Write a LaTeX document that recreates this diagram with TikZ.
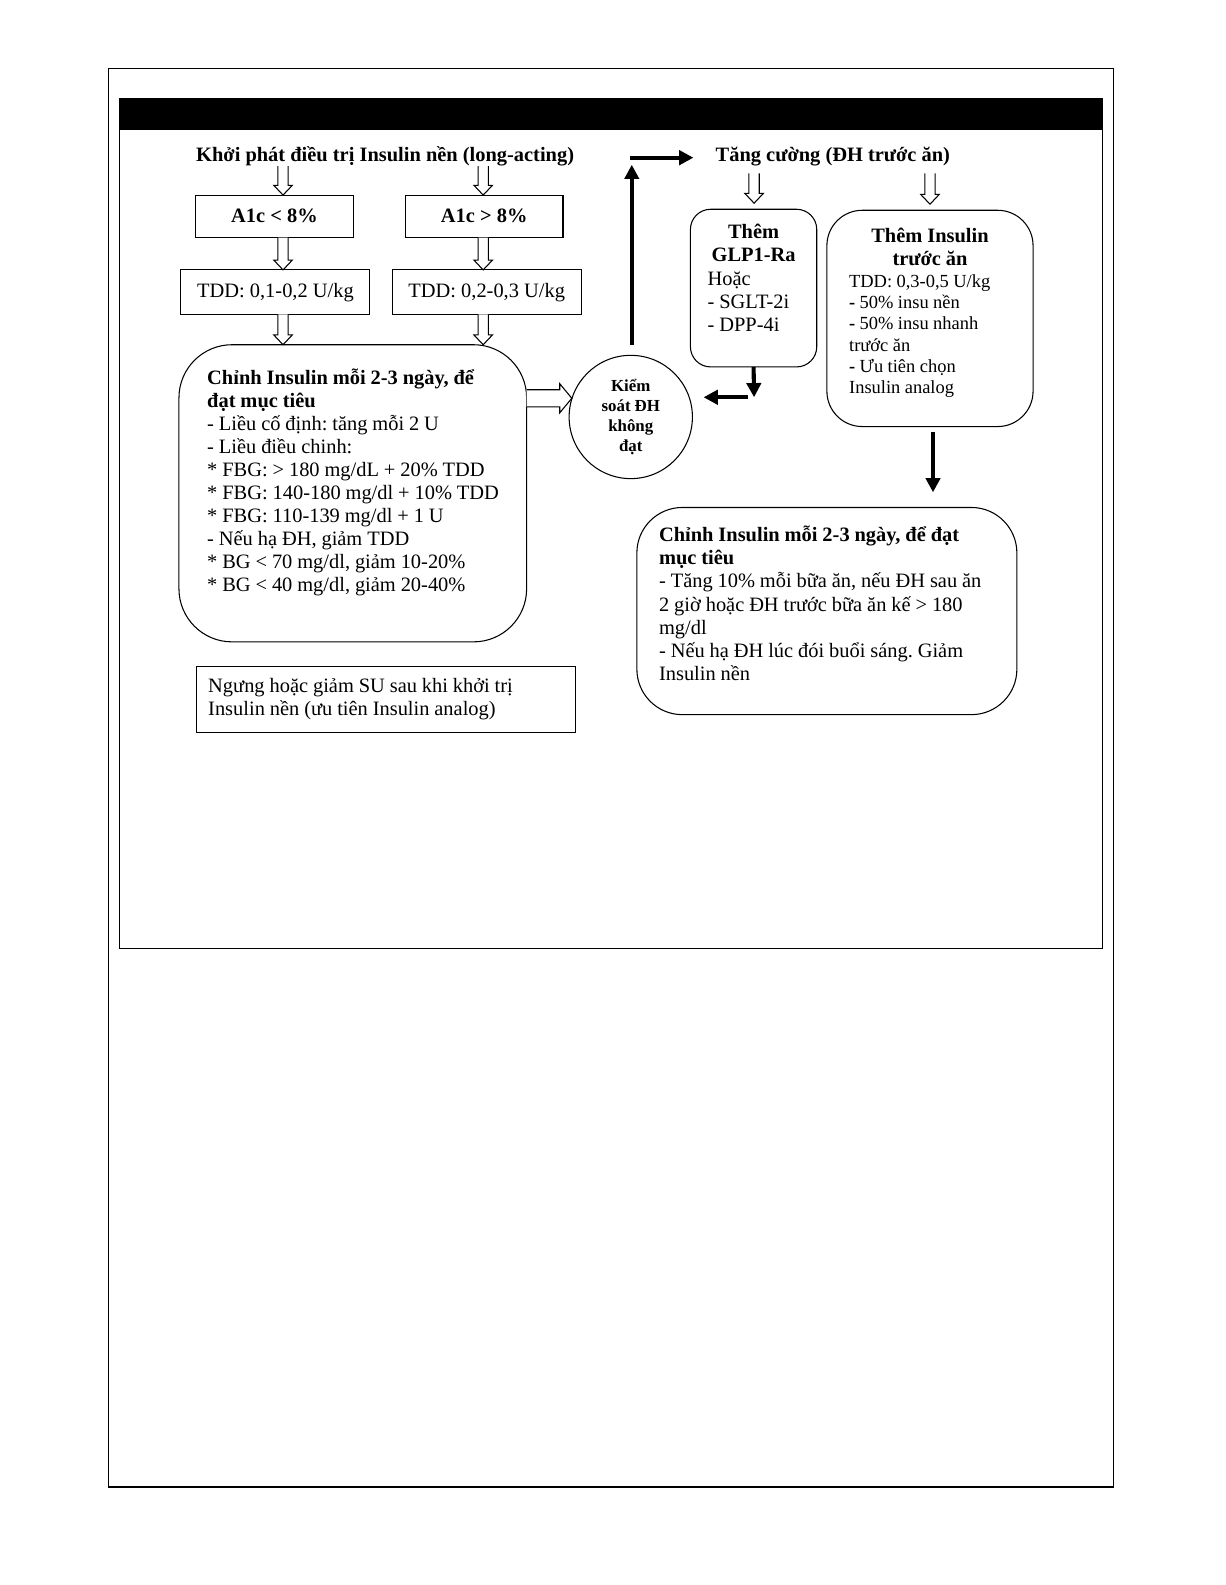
\documentclass[tikz,border=0pt]{standalone}
\usepackage{fontspec}
\setmainfont{Liberation Serif}
\usetikzlibrary{arrows.meta,calc}
\frenchspacing
\newcommand{\hollowdown}[2]{%
  \draw[line width=0.6pt, fill=white] let \p1=#1, \p2=#2 in
   (\x1-2.9pt,\y1) -- (\x1-2.9pt,\y2+5.5pt) -- (\x1-5.2pt,\y2+5.5pt) -- (\x1,\y2)
   -- (\x1+5.2pt,\y2+5.5pt) -- (\x1+2.9pt,\y2+5.5pt) -- (\x1+2.9pt,\y1);}
\newcommand{\hollowright}[2]{%
  \draw[line width=0.6pt, fill=white] let \p1=#1, \p2=#2 in
   (\x1,\y1+4.8pt) -- (\x2-6.8pt,\y1+4.8pt) -- (\x2-6.8pt,\y1+8.2pt) -- (\x2,\y1)
   -- (\x2-6.8pt,\y1-8.2pt) -- (\x2-6.8pt,\y1-4.8pt) -- (\x1,\y1-4.8pt);}
\begin{document}
\begin{tikzpicture}[x=0.02cm, y=-0.02cm,
  every node/.style={inner sep=0pt, outer sep=0pt},
  fnt/.style={font=\fontsize{11.5}{13}\selectfont\frenchspacing},
  fntb/.style={font=\fontsize{11.5}{13}\selectfont\bfseries\frenchspacing},
  tight/.style={execute at begin node={\spaceskip=0.24em\relax\xspaceskip=0.24em\relax}},
  sbox/.style={draw, line width=0.6pt},
  rbox/.style={draw, line width=0.6pt, rounded corners=#1},
  txt/.style={fnt, tight, text width=8cm, align=left, anchor=base west},
  tarrow/.style={line width=2.3pt, -{Triangle[length=8pt,width=8pt]}}
]
\path[use as bounding box, fill=white] (0,0) rectangle (1212,1568);
\draw[line width=0.6pt] (107,68) rectangle (1102,1471);
\draw[line width=0.6pt] (118,97) rectangle (1091,938);
\fill (118,97) rectangle (1091,129);

% titles
\node[fntb, anchor=base] (t1) at (381,160) {Khởi phát điều trị Insulin nền (long-acting)};
\node[fntb, anchor=base west] (t2) at (708,160) {Tăng cường (ĐH trước ăn)};

\coordinate (colA) at (280,0);
\coordinate (colB) at (478,0);
\coordinate (colG) at (746,0);
\coordinate (colH) at (920,0);
\coordinate (colI) at (923,0);

% left column boxes
\node[sbox, fntb, minimum width=3.14cm, minimum height=0.84cm] (a1) at (271.5,214) {A1c < 8\%};
\node[sbox, fntb, minimum width=3.12cm, minimum height=0.84cm] (a2) at (479,214) {A1c > 8\%};
\node[sbox, fnt, minimum width=3.74cm, minimum height=0.88cm] (d1) at (272.5,289) {TDD: 0,1-0,2 U/kg};
\node[sbox, fnt, minimum width=3.74cm, minimum height=0.88cm] (d2) at (481.5,289) {TDD: 0,2-0,3 U/kg};

\node[rbox=1.05cm, minimum width=6.88cm, minimum height=5.88cm] (lb) at (349,488) {};
\node[txt] at (205,380) {\textbf{Chỉnh Insulin mỗi 2-3 ngày, để}\\\textbf{đạt mục tiêu}\\- Liều cố định: tăng mỗi 2 U\\- Liều điều chinh:\\{}* FBG: > 180 mg/dL + 20\% TDD\\{}* FBG: 140-180 mg/dl + 10\% TDD\\{}* FBG: 110-139 mg/dl + 1 U\\- Nếu hạ ĐH, giảm TDD\\{}* BG < 70 mg/dl, giảm 10-20\%\\{}* BG < 40 mg/dl, giảm 20-40\%};

\node[sbox, minimum width=7.5cm, minimum height=1.32cm] (note) at (381.5,692) {};
\node[txt] at (206,685) {Ngưng hoặc giảm SU sau khi khởi trị\\Insulin nền (ưu tiên Insulin analog)};

% circle
\node[circle, draw, line width=0.6pt, minimum size=2.44cm, align=center, tight,
      font=\fontsize{9.5}{11.4}\selectfont\bfseries] (circ) at (624,412.5) {Kiểm\\soát ĐH\\không\\đạt};

% right boxes
\node[rbox=0.4cm, minimum width=2.5cm, minimum height=3.12cm] (glp) at (745.5,285) {};
\node[fntb, tight, text width=2.4cm, align=center, anchor=base] at (745.5,236) {Thêm\\GLP1-Ra};
\node[txt] at (700,282) {Hoặc\\- SGLT-2i\\- DPP-4i};

\node[rbox=0.7cm, minimum width=4.08cm, minimum height=4.28cm] (ins) at (920,315) {};
\node[fntb, tight, text width=4cm, align=center, anchor=base] at (920,240) {Thêm Insulin\\trước ăn};
\node[font=\fontsize{10.4}{12}\selectfont, tight, text width=4cm, align=left, anchor=base west] at (840,284)
  {TDD: 0,3-0,5 U/kg\\\textbf{-} 50\% insu nền\\\textbf{-} 50\% insu nhanh\\trước ăn\\\textbf{-} Ưu tiên chọn\\Insulin analog};

\node[rbox=0.9cm, minimum width=7.52cm, minimum height=4.1cm] (br) at (818,604.5) {};
\node[txt] at (652,536) {\textbf{Chỉnh Insulin mỗi 2-3 ngày, để đạt}\\\textbf{mục tiêu}\\- Tăng 10\% mỗi bữa ăn, nếu ĐH sau ăn\\2 giờ hoặc ĐH trước bữa ăn kế > 180\\mg/dl\\- Nếu hạ ĐH lúc đói buổi sáng. Giảm\\Insulin nền};

% hollow arrows
\hollowdown{(colA |- t1.south)}{(colA |- a1.north)}
\hollowdown{(colB |- t1.south)}{(colB |- a2.north)}
\hollowdown{(colA |- a1.south)}{(colA |- d1.north)}
\hollowdown{(colB |- a2.south)}{(colB |- d2.north)}
\hollowdown{(colA |- d1.south)}{(colA |- lb.north)}
\hollowdown{(colB |- d2.south)}{(colB |- lb.north)}
\hollowdown{($(colG |- t2.south)+(0,7)$)}{($(colG |- glp.north)+(0,-6)$)}
\hollowdown{($(colH |- t2.south)+(0,7)$)}{($(colH |- ins.north)+(0,-6)$)}
\coordinate (ha) at (0,394);
\hollowright{(lb.east |- ha)}{(circ.163)}

% thick arrows
\coordinate (corner) at (625,156);
\draw[tarrow] ($(corner |- circ.north)+(0,-10)$) -- ($(corner)+(0,7)$);
\draw[tarrow] ($(corner)+(-2,0)$) -- ($(t2.west |- corner)+(-22,0)$);
\coordinate (gb) at (746,393);
\draw[tarrow] (glp.south) -- (gb);
\draw[tarrow] ($(gb)+(-6,0)$) -- ($(circ.east |- gb)+(11,0)$);
\draw[tarrow] ($(colI |- ins.south)+(0,5)$) -- ($(colI |- br.north)+(0,-15)$);
\end{tikzpicture}
\end{document}
